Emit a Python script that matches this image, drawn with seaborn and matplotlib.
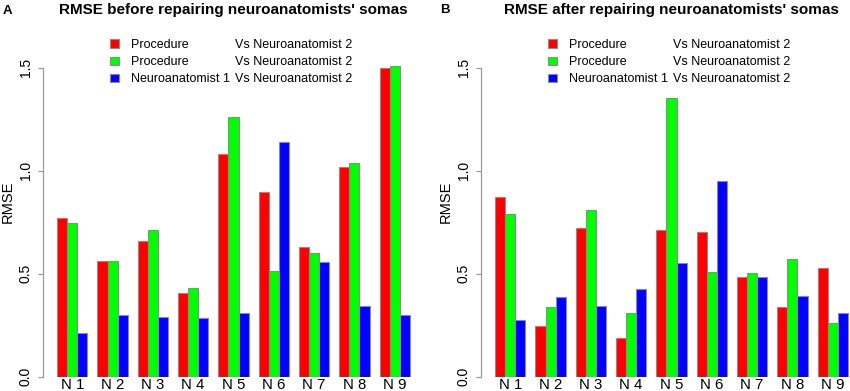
import numpy as np
import pandas as pd
import seaborn as sns
import matplotlib.pyplot as plt
from matplotlib.patches import Patch

# neurons on the x axis
neurons = ["N 1", "N 2", "N 3", "N 4", "N 5", "N 6", "N 7", "N 8", "N 9"]

# the three comparisons (keys are internal, two share the same legend text)
series = ["proc_red", "proc_green", "neuro1"]
legend_first = ["Procedure", "Procedure", "Neuroanatomist 1"]
legend_second = ["Vs Neuroanatomist 2", "Vs Neuroanatomist 2", "Vs Neuroanatomist 2"]
colors = ["#FF0000", "#00FF00", "#0000FF"]

# panel A: before repairing somas
before_red = [0.772, 0.561, 0.660, 0.408, 1.081, 0.898, 0.628, 1.019, 1.500]
before_green = [0.748, 0.563, 0.710, 0.430, 1.260, 0.511, 0.599, 1.037, 1.510]
before_blue = [0.212, 0.301, 0.288, 0.286, 0.311, 1.139, 0.558, 0.343, 0.301]

# panel B: after repairing somas
after_red = [0.872, 0.248, 0.720, 0.186, 0.712, 0.702, 0.484, 0.340, 0.529]
after_green = [0.790, 0.337, 0.809, 0.311, 1.353, 0.506, 0.503, 0.573, 0.261]
after_blue = [0.275, 0.388, 0.345, 0.426, 0.553, 0.950, 0.484, 0.390, 0.307]

yticks = [0.0, 0.5, 1.0, 1.5]
ytick_labels = ["0.0", "0.5", "1.0", "1.5"]

plt.rcParams["font.family"] = ["Liberation Sans", "DejaVu Sans"]

EDGE = "#8c8c8c"
AXCOL = "#9a9a9a"


def long_frame(red, green, blue):
    rows = []
    for key, vals in zip(series, [red, green, blue]):
        for n, v in zip(neurons, vals):
            rows.append({"neuron": n, "series": key, "rmse": v})
    return pd.DataFrame(rows)


def draw_panel(ax, df, title):
    sns.barplot(data=df, x="neuron", y="rmse", hue="series",
                order=neurons, hue_order=series, palette=colors,
                width=0.75, saturation=1, errorbar=None, legend=False,
                edgecolor=EDGE, linewidth=0.8, ax=ax)
    ax.set_xlim(-0.725, 8.725)
    ax.set_ylim(0, 1.6)
    for side in ["top", "right", "bottom"]:
        ax.spines[side].set_visible(False)
    ax.spines["left"].set_bounds(0, 1.5)
    ax.spines["left"].set_color(AXCOL)
    ax.spines["left"].set_linewidth(0.9)
    ax.set_yticks(yticks)
    ax.set_yticklabels(ytick_labels, rotation=90, va="center")
    ax.tick_params(axis="y", length=3.5, width=0.9, color=AXCOL, pad=4,
                   labelsize=10)
    ax.tick_params(axis="x", length=0, pad=0.8, labelsize=10.8)
    ax.set_xlabel("")
    ax.set_ylabel("RMSE", fontsize=10.5, labelpad=2.5, y=0.53)
    ax.patch.set_visible(False)

    ax.text(0.5, 1.1126, title, transform=ax.transAxes, ha="center",
            va="center", fontsize=11, fontweight="bold")

    handles = [Patch(facecolor=c, edgecolor=EDGE, linewidth=0.8) for c in colors]
    leg1 = ax.legend(handles, legend_first, loc="upper left",
                     bbox_to_anchor=(0.176, 1.025), frameon=False, fontsize=9,
                     borderpad=0, borderaxespad=0, handlelength=0.75,
                     handleheight=0.65, handletextpad=0.9, labelspacing=0.42)
    ax.add_artist(leg1)
    blank = [Patch(visible=False) for _ in colors]
    ax.legend(blank, legend_second, loc="upper left",
              bbox_to_anchor=(0.504, 1.025), frameon=False, fontsize=9,
              borderpad=0, borderaxespad=0, handlelength=0,
              handleheight=0.65, handletextpad=0, labelspacing=0.42)


fig = plt.figure(figsize=(8.5, 3.91), dpi=100)
ax_a = fig.add_axes([43 / 850, 14.3 / 391, 381 / 850, 329.6 / 391])
ax_b = fig.add_axes([481 / 850, 14.3 / 391, 381 / 850, 329.6 / 391])

draw_panel(ax_a, long_frame(before_red, before_green, before_blue),
           "RMSE before repairing neuroanatomists' somas")
draw_panel(ax_b, long_frame(after_red, after_green, after_blue),
           "RMSE after repairing neuroanatomists' somas")

fig.text(7.5 / 850, 1 - 11 / 391, "A", ha="center", va="center",
         fontsize=9.5, fontweight="bold")
fig.text(445 / 850, 1 - 10 / 391, "B", ha="center", va="center",
         fontsize=9.5, fontweight="bold")

fig.savefig("out.png", dpi=100)
plt.close(fig)
